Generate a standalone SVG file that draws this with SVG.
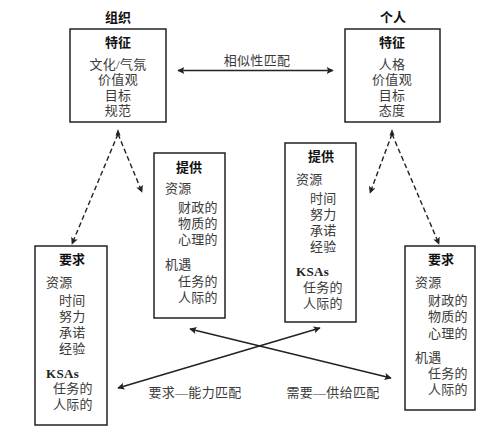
<svg xmlns="http://www.w3.org/2000/svg" width="493" height="435" viewBox="0 0 493 435">
<style>
.box{fill:#fff;stroke:#222;stroke-width:1.5}
.h{font-family:"Noto Sans CJK SC",sans-serif;font-size:13px;font-weight:bold;fill:#111}
.t{font-family:"Liberation Serif","Noto Sans CJK SC",serif;font-size:13px;fill:#3a3a3a;letter-spacing:0.3px}
.k{font-weight:bold;fill:#222}
.c{text-anchor:middle}
.ln{stroke:#222;stroke-width:1.5;fill:none}
.dash{stroke:#222;stroke-width:1.4;fill:none;stroke-dasharray:5 3}
</style>
<defs>
<marker id="ah" viewBox="0 0 10 10" refX="9" refY="5" markerWidth="9" markerHeight="7" markerUnits="userSpaceOnUse" orient="auto-start-reverse">
<path d="M0,0 L10,5 L0,10 L2,5 z" fill="#222"/>
</marker>
</defs>
<rect width="493" height="435" fill="#fff"/>
<g id="org-label"><text class="h c" x="118" y="22">组织</text></g>
<g id="ind-label"><text class="h c" x="393" y="22">个人</text></g>
<g id="org-traits">
<rect class="box" x="70" y="29" width="96" height="93"/>
<text class="h c" x="118" y="47">特征</text>
<text class="t c" x="118" y="69">文化/气氛</text>
<text class="t c" x="118" y="84">价值观</text>
<text class="t c" x="118" y="100">目标</text>
<text class="t c" x="118" y="115">规范</text>
</g>
<g id="ind-traits">
<rect class="box" x="345" y="29" width="95" height="93"/>
<text class="h c" x="392" y="47">特征</text>
<text class="t c" x="392" y="69">人格</text>
<text class="t c" x="392" y="84">价值观</text>
<text class="t c" x="392" y="100">目标</text>
<text class="t c" x="392" y="115">态度</text>
</g>
<g id="org-supply">
<rect class="box" x="154" y="153" width="71" height="165"/>
<text class="h c" x="189" y="172">提供</text>
<text class="t" x="165" y="193">资源</text>
<text class="t" x="178" y="212">财政的</text>
<text class="t" x="178" y="228">物质的</text>
<text class="t" x="178" y="244">心理的</text>
<text class="t" x="165" y="269">机遇</text>
<text class="t" x="178" y="286">任务的</text>
<text class="t" x="178" y="302">人际的</text>
</g>
<g id="ind-supply">
<rect class="box" x="285" y="143" width="71" height="179"/>
<text class="h c" x="321" y="161">提供</text>
<text class="t" x="296" y="184">资源</text>
<text class="t" x="310" y="203">时间</text>
<text class="t" x="310" y="219">努力</text>
<text class="t" x="310" y="235">承诺</text>
<text class="t" x="310" y="251">经验</text>
<text class="t k" x="296" y="276">KSAs</text>
<text class="t" x="303" y="292">任务的</text>
<text class="t" x="303" y="308">人际的</text>
</g>
<g id="org-demand">
<rect class="box" x="35" y="246" width="72" height="179"/>
<text class="h c" x="72" y="264">要求</text>
<text class="t" x="46" y="287">资源</text>
<text class="t" x="59" y="305">时间</text>
<text class="t" x="59" y="321">努力</text>
<text class="t" x="59" y="337">承诺</text>
<text class="t" x="59" y="353">经验</text>
<text class="t k" x="46" y="378">KSAs</text>
<text class="t" x="53" y="393">任务的</text>
<text class="t" x="53" y="409">人际的</text>
</g>
<g id="ind-demand">
<rect class="box" x="405" y="246" width="70" height="164"/>
<text class="h c" x="441" y="264">要求</text>
<text class="t" x="415" y="287">资源</text>
<text class="t" x="428" y="305">财政的</text>
<text class="t" x="428" y="321">物质的</text>
<text class="t" x="428" y="338">心理的</text>
<text class="t" x="415" y="362">机遇</text>
<text class="t" x="428" y="378">任务的</text>
<text class="t" x="428" y="394">人际的</text>
</g>
<g id="connectors">
<line class="ln" x1="178" y1="70.5" x2="333" y2="70.5" marker-start="url(#ah)" marker-end="url(#ah)"/>
<text class="t c" x="257" y="65">相似性匹配</text>
<line class="dash" x1="118" y1="134" x2="72" y2="244" marker-end="url(#ah)"/>
<line class="dash" x1="118" y1="134" x2="142" y2="192" marker-end="url(#ah)"/>
<polygon points="118,129 115.5,135.5 120.5,135.5" fill="#222"/>
<line class="dash" x1="392" y1="134" x2="370" y2="193" marker-end="url(#ah)"/>
<line class="dash" x1="392" y1="134" x2="439" y2="244" marker-end="url(#ah)"/>
<polygon points="392,129 389.5,135.5 394.5,135.5" fill="#222"/>
<line class="ln" x1="118" y1="388" x2="320" y2="328" marker-start="url(#ah)" marker-end="url(#ah)"/>
<line class="ln" x1="190" y1="329" x2="391" y2="378" marker-start="url(#ah)" marker-end="url(#ah)"/>
<text class="t c" x="195" y="397">要求—能力匹配</text>
<text class="t c" x="333" y="397">需要—供给匹配</text>
</g>
</svg>
